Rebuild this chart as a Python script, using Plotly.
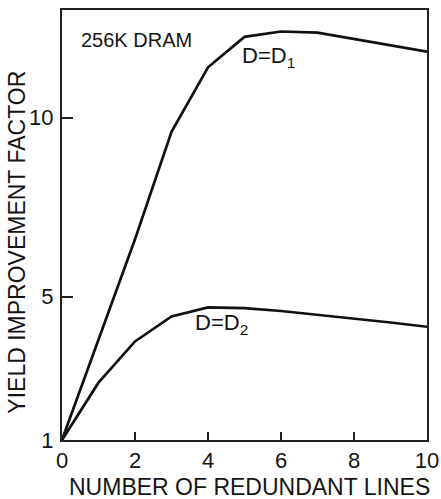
import plotly.graph_objects as go

# Data
redundant_lines = [0, 1, 2, 3, 4, 5, 6, 7, 8, 9, 10]
yield_d1 = [1.0, 3.8, 6.6, 9.6, 11.4, 12.25, 12.4, 12.37, 12.2, 12.02, 11.84]
yield_d2 = [1.0, 2.6, 3.75, 4.45, 4.7, 4.68, 4.6, 4.5, 4.4, 4.28, 4.16]

x_ticks = [0, 2, 4, 6, 8, 10]
y_ticks = [1, 5, 10]

FONT = "Liberation Sans, Arial, sans-serif"
TXT = "#141414"

fig = go.Figure()
for ys in (yield_d1, yield_d2):
    fig.add_trace(go.Scatter(x=redundant_lines, y=ys, mode="lines",
                             line=dict(color="#111111", width=2.7),
                             showlegend=False, hoverinfo="skip"))

fig.update_layout(
    width=441, height=499, autosize=False,
    margin=dict(l=62, r=14, t=10, b=59, autoexpand=False),
    paper_bgcolor="white", plot_bgcolor="white",
    font=dict(family=FONT, color=TXT, size=22),
    xaxis=dict(range=[0, 10], tickvals=x_ticks, ticks="inside", ticklen=8,
               tickwidth=1.5, tickcolor="#222", showgrid=False, zeroline=False,
               showline=True, linecolor="#222", linewidth=2, mirror=True,
               automargin=False,
               tickfont=dict(size=22, color=TXT, family=FONT)),
    yaxis=dict(range=[1, 13], tickvals=y_ticks, ticks="inside", ticklen=11,
               tickwidth=1.5, tickcolor="#222", showgrid=False, zeroline=False,
               showline=True, linecolor="#222", linewidth=2, mirror=True,
               ticklabelstandoff=2, automargin=False,
               tickfont=dict(size=22, color=TXT, family=FONT)),
    annotations=[
        dict(text="256K DRAM", x=0.047, y=0.93, xref="paper", yref="paper",
             xanchor="left", yanchor="middle", showarrow=False,
             font=dict(size=20, color=TXT, family=FONT)),
        dict(text="D=D<sub>1</sub>", x=0.567, y=0.89, xref="paper", yref="paper",
             xanchor="center", yanchor="middle", showarrow=False,
             font=dict(size=22, color=TXT, family=FONT)),
        dict(text="D=D<sub>2</sub>", x=0.438, y=0.27, xref="paper", yref="paper",
             xanchor="center", yanchor="middle", showarrow=False,
             font=dict(size=22, color=TXT, family=FONT)),
        dict(text="YIELD IMPROVEMENT FACTOR", x=-0.122, y=0.46, xref="paper",
             yref="paper", textangle=-90, xanchor="center", yanchor="middle",
             showarrow=False, font=dict(size=23, color=TXT, family=FONT)),
        dict(text="NUMBER OF REDUNDANT LINES", x=0.515, y=-0.109, xref="paper",
             yref="paper", xanchor="center", yanchor="middle", showarrow=False,
             font=dict(size=23, color=TXT, family=FONT)),
    ],
)

fig.write_html("out.html", config={"displayModeBar": False},
               post_script="document.body.style.margin='0px';")
